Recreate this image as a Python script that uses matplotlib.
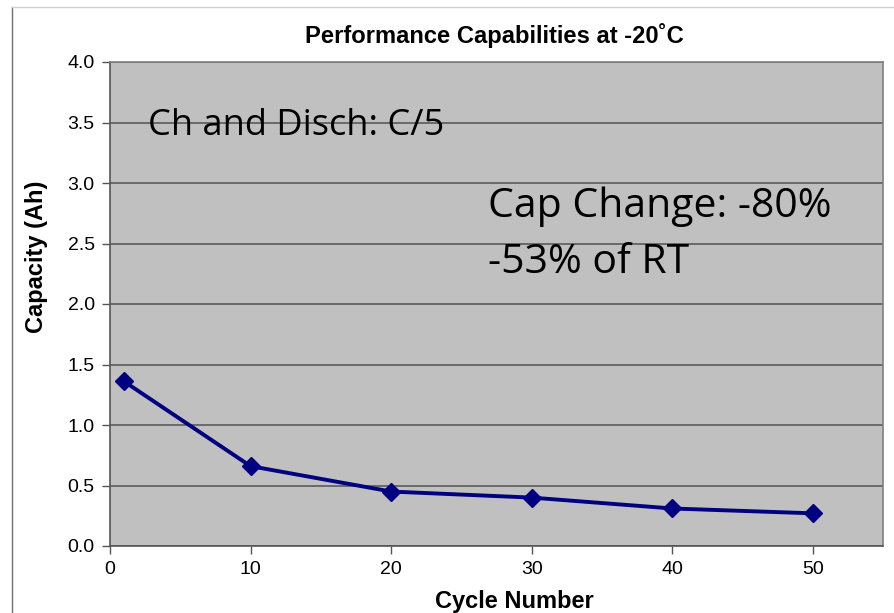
import matplotlib.pyplot as plt
from matplotlib.lines import Line2D

# data
cycles = [1, 10, 20, 30, 40, 50]
capacity = [1.36, 0.66, 0.45, 0.40, 0.31, 0.27]
x_ticks = [0, 10, 20, 30, 40, 50]
y_ticks = [0.0, 0.5, 1.0, 1.5, 2.0, 2.5, 3.0, 3.5, 4.0]

fig = plt.figure(figsize=(8.95, 6.13), dpi=100)
ax = fig.add_axes([110 / 895, 1 - 546 / 613, 773 / 895, 484 / 613])
ax.set_facecolor('#c0c0c0')

ax.plot(cycles, capacity, color='#000080', lw=2.8, marker='D', ms=9.5,
        zorder=3, clip_on=False)

ax.set_xlim(0, 55)
ax.set_ylim(0, 4.0)
ax.set_xticks(x_ticks)
ax.set_yticks(y_ticks)
ax.set_yticklabels([f'{v:.1f}' for v in y_ticks])
ax.grid(axis='y', color='#5a5a5a', lw=1.2)
ax.set_axisbelow(True)
for s in ax.spines.values():
    s.set_color('#808080')
    s.set_linewidth(1.2)
ax.spines['bottom'].set_color('#555555')
ax.spines['left'].set_color('#555555')
ax.tick_params(colors='#555555', length=6, width=1, labelcolor='black',
               labelsize=14, pad=5)
for lab in ax.get_xticklabels() + ax.get_yticklabels():
    lab.set_family('Liberation Sans')

# annotations
ax.text(2.7, 3.40, 'Ch and Disch: C/5', family='Open Sans', fontsize=26,
        va='baseline')
ax.text(26.9, 2.72, 'Cap Change: -80%', family='Open Sans', fontsize=29.5,
        va='baseline')
ax.text(26.9, 2.26, '-53% of RT', family='Open Sans', fontsize=29.5,
        va='baseline')

# titles
fig.text(494 / 895, 1 - 43 / 613, 'Performance Capabilities at -20\u02daC',
         ha='center', va='baseline', family='Liberation Sans',
         fontweight='bold', fontsize=17.1)
fig.text(514 / 895, 1 - 608 / 613, 'Cycle Number', ha='center',
         va='baseline', family='Liberation Sans', fontweight='bold',
         fontsize=17)
fig.text(37 / 895, 1 - 257 / 613, 'Capacity (Ah)', ha='center', va='center',
         rotation=90, family='Liberation Sans', fontweight='bold',
         fontsize=17)

# page frame lines
fig.add_artist(Line2D([12 / 895, 12 / 895], [0, 1 - 7 / 613],
                      color='#707070', lw=1))
fig.add_artist(Line2D([12 / 895, 1], [1 - 7 / 613, 1 - 7 / 613],
                      color='#d0d0d0', lw=1))

fig.savefig('out.png', dpi=100)
